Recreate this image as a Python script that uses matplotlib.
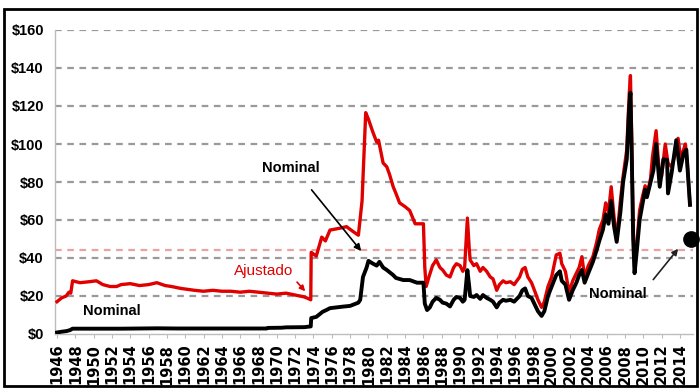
import matplotlib
matplotlib.use("Agg")
import matplotlib.pyplot as plt
from matplotlib.patches import Rectangle

plt.rcParams['font.family'] = ['Liberation Sans', 'DejaVu Sans']

# ---- data ----
adj_years = [1946.0, 1946.5, 1947.0, 1947.3, 1947.5, 1947.7, 1948.5, 1949.5, 1950.3, 1951.0, 1951.8,
             1952.5, 1953.0, 1954.0, 1955.0, 1956.0, 1956.9, 1957.8, 1958.5, 1959.5, 1961.0, 1962.0,
             1963.0, 1964.0, 1965.0, 1966.0, 1967.0, 1968.0, 1969.0, 1970.0, 1971.0, 1972.0, 1973.0,
             1973.5, 1973.7, 1973.75, 1974.3, 1974.9, 1975.3, 1975.8, 1976.9, 1977.6, 1978.3, 1978.9,
             1979.3, 1979.7, 1980.0, 1980.5, 1980.9, 1981.1, 1981.6, 1982.0, 1982.3, 1982.7, 1983.0,
             1983.4, 1984.0, 1984.5, 1985.1, 1986.0, 1986.15, 1986.3, 1986.6, 1987.0, 1987.4, 1987.8,
             1988.1, 1988.5, 1988.9, 1989.3, 1989.6, 1990.0, 1990.3, 1990.5, 1990.8, 1991.0, 1991.1,
             1991.5, 1991.8, 1992.2, 1992.5, 1992.9, 1993.3, 1993.6, 1994.0, 1994.3, 1994.7, 1995.0,
             1995.5, 1995.9, 1996.5, 1996.8, 1997.1, 1997.4, 1997.8, 1998.2, 1998.5, 1998.9, 1999.2,
             1999.6, 2000.0, 2000.5, 2000.9, 2001.1, 2001.5, 2001.9, 2002.3, 2002.7, 2003.0, 2003.3,
             2003.6, 2004.0, 2004.5, 2004.9, 2005.2, 2005.6, 2005.9, 2006.2, 2006.5, 2006.8, 2007.1,
             2007.5, 2007.8, 2008.2, 2008.45, 2008.6, 2008.75, 2008.9, 2009.05, 2009.3, 2009.6, 2009.9,
             2010.2, 2010.5, 2010.8, 2011.0, 2011.4, 2011.7, 2012.0, 2012.4, 2012.7, 2013.1, 2013.5,
             2013.8, 2014.1, 2014.4, 2014.6, 2014.8, 2015.1]
adj_values = [17, 19, 20, 22, 21.5, 28, 27, 27.5, 28, 26, 25,
              25, 26, 26.5, 25.5, 26, 27, 25.5, 25, 24, 23, 22.5,
              23, 22.5, 22.5, 22, 22.5, 22, 21.5, 21, 21.5, 20.5, 19.5,
              18.5, 18, 43, 41, 51, 49, 54.7, 55.7, 56.5, 54, 52,
              70, 116.5, 113, 106, 101, 102, 90, 88, 84, 77.5, 74,
              69, 67, 65, 58, 58, 35, 25, 30, 36, 39, 35,
              33.7, 31, 30, 35, 37, 36, 33, 35, 61, 45, 39,
              36, 37, 33, 35, 33, 30, 29, 23, 26, 28, 27,
              27.5, 26, 30, 34, 35, 30, 27, 22, 18, 14, 17,
              25, 30, 41.6, 42.5, 37, 33, 22, 28, 32, 35, 40.7,
              30, 36, 40.7, 48, 55, 60, 69, 64, 77.5, 62, 49.5,
              70, 83, 97, 125, 136, 100, 55, 35, 48, 65, 72,
              78, 75, 82, 93, 107, 88, 83, 100, 90, 88, 95,
              103, 92, 97, 100, 90, 68]

nom_years = [1946.0, 1946.5, 1947.0, 1947.4, 1947.7, 1948.5, 1953.0, 1957.0, 1959.0, 1965.0, 1968.9,
             1969.0, 1970.5, 1971.0, 1973.0, 1973.7, 1973.75, 1974.3, 1975.0, 1975.4, 1975.8, 1977.2,
             1978.0, 1978.9, 1979.1, 1979.4, 1979.8, 1980.0, 1980.5, 1980.9, 1981.2, 1981.6, 1982.0,
             1982.7, 1983.0, 1983.8, 1984.5, 1985.3, 1986.0, 1986.15, 1986.4, 1986.7, 1987.0, 1987.4,
             1987.8, 1988.1, 1988.5, 1988.9, 1989.3, 1989.6, 1990.0, 1990.3, 1990.5, 1990.8, 1991.0,
             1991.1, 1991.5, 1991.8, 1992.2, 1992.5, 1992.9, 1993.3, 1993.6, 1994.0, 1994.3, 1994.7,
             1995.0, 1995.5, 1995.9, 1996.5, 1996.8, 1997.1, 1997.4, 1997.8, 1998.2, 1998.5, 1998.9,
             1999.2, 1999.6, 2000.0, 2000.5, 2000.9, 2001.1, 2001.5, 2001.9, 2002.3, 2002.7, 2003.0,
             2003.3, 2003.6, 2004.0, 2004.5, 2004.9, 2005.2, 2005.6, 2005.9, 2006.2, 2006.5, 2006.8,
             2007.1, 2007.5, 2007.8, 2008.2, 2008.45, 2008.6, 2008.75, 2008.9, 2009.05, 2009.3, 2009.6,
             2009.9, 2010.2, 2010.4, 2010.8, 2011.1, 2011.4, 2011.8, 2012.2, 2012.6, 2012.7, 2013.1,
             2013.6, 2014.0, 2014.4, 2014.7, 2015.1]
nom_values = [0.8, 1.2, 1.5, 2.0, 2.8, 2.8, 2.8, 3.0, 2.9, 2.9, 2.9,
              3.2, 3.3, 3.5, 3.6, 4.0, 8.4, 9.0, 11.7, 12.6, 13.6, 14.4,
              14.8, 16.5, 18, 30, 35, 38.5, 37, 36, 38, 35, 33.7,
              31, 29.5, 28.4, 28.4, 27, 27, 16, 12.6, 14, 17, 19,
              18, 16.5, 16, 14.5, 18, 19.5, 19, 17, 18, 33.6, 25,
              20, 19.5, 20.5, 18.5, 20.5, 19, 18, 17, 14, 16.5, 18,
              17.5, 18, 17, 20, 23, 24, 20, 19, 15, 12, 9.5,
              12, 20, 25, 31, 33, 28, 26, 18, 23, 27, 31,
              33.7, 27, 32, 38, 44, 49, 55, 63, 58, 70, 57,
              48.5, 64, 80, 92, 118, 127, 92, 50, 32, 44, 60,
              68, 76, 72, 80, 86, 100, 77.5, 92, 91.6, 74, 85,
              102, 86, 95, 97, 68]

y_ticks = [0, 20, 40, 60, 80, 100, 120, 140, 160]
y_tick_labels = ['$0', '$20', '$40', '$60', '$80', '$100', '$120', '$140', '$160']
x_ticks = list(range(1946, 2015, 2))
reference_level = 44
marker_point = (2015.25, 50)

# ---- figure ----
fig = plt.figure(figsize=(7.0, 3.88), dpi=100)
ax = fig.add_axes([55 / 700, 1 - 334 / 388, (693 - 55) / 700, (334 - 30) / 388])

ax.set_xlim(1945.78, 2015.43)
ax.set_ylim(0, 160)

for yv in y_ticks[1:]:
    ax.axhline(yv, color='#9a9a9a', lw=1.6, ls=(0, (3, 2.5)), zorder=1)
ax.axhline(reference_level, color='#e9a3a3', lw=1.6, ls=(0, (3, 2.5)), zorder=1)

ax.plot(adj_years, adj_values, color='#e00000', lw=2.4, zorder=3, solid_joinstyle='round')
ax.plot(nom_years, nom_values, color='#000000', lw=2.8, zorder=4, solid_joinstyle='round')

ax.plot([marker_point[0]], [marker_point[1]], 'o', color='black', ms=11, clip_on=False, zorder=5)

for s in ['top', 'right']:
    ax.spines[s].set_visible(False)
ax.spines['left'].set_color('#bdbdbd')
ax.spines['bottom'].set_color('#bdbdbd')
ax.spines['left'].set_linewidth(1.0)
ax.spines['bottom'].set_linewidth(1.0)

ax.set_yticks(y_ticks)
ax.set_yticklabels(y_tick_labels, fontsize=10.5, fontweight='bold')
ax.tick_params(axis='y', length=0, pad=8)
ax.set_xticks(x_ticks)
ax.set_xticklabels([str(t) for t in x_ticks], rotation=90, fontsize=10.5, fontweight='bold',
                   family='DejaVu Sans')
ax.tick_params(axis='x', length=3, color='#bdbdbd', pad=4)

# annotations
ax.text(1971.5, 87.4, 'Nominal', ha='center', va='center', fontsize=10.5, fontweight='bold')
ax.annotate('', xy=(1979.4, 42.5), xytext=(1973.6, 77),
            arrowprops=dict(arrowstyle='-|>', color='black', lw=1.2, mutation_scale=10))
ax.text(1968.5, 33, 'Ajustado', ha='center', va='center', fontsize=11, color='#e00000')
ax.annotate('', xy=(1973.3, 21.4), xytext=(1972.0, 28.4),
            arrowprops=dict(arrowstyle='-|>', color='#e00000', lw=1.2, mutation_scale=8))
ax.text(1952.0, 12.1, 'Nominal', ha='center', va='center', fontsize=10.5, fontweight='bold')
ax.text(2007.2, 21.3, 'Nominal', ha='center', va='center', fontsize=10.5, fontweight='bold')
ax.annotate('', xy=(2014.0, 46), xytext=(2010.9, 27.5),
            arrowprops=dict(arrowstyle='-|>', color='#222222', lw=1.2, mutation_scale=9))

# outer frame
fig.patches.append(Rectangle((4 / 700, 2 / 388), 693 / 700, 377 / 388, transform=fig.transFigure,
                             fill=False, edgecolor='black', lw=2))

fig.savefig('out.png', dpi=100)
